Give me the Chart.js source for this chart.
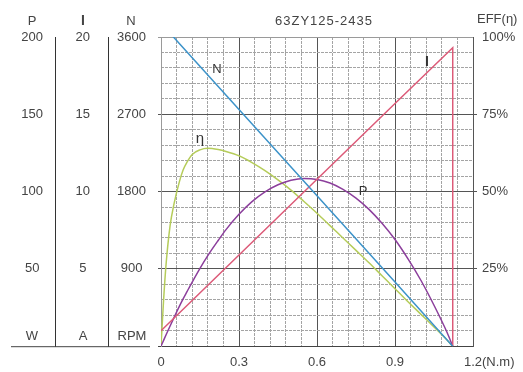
<!DOCTYPE html>
<html><head><meta charset="utf-8">
<script src="https://cdn.jsdelivr.net/npm/chart.js@4/dist/chart.umd.min.js"></script>
<style>html,body{margin:0;padding:0;background:#fff}canvas{display:block}</style>
</head><body>
<canvas id="c" width="523" height="372"></canvas>
<script>
// ---- data ----
const torque     = [0, 0.01, 0.02, 0.035, 0.05, 0.07, 0.085, 0.1, 0.12, 0.15, 0.18, 0.22, 0.25, 0.3, 0.35, 0.4, 0.45, 0.5, 0.55, 0.6, 0.65, 0.7, 0.75, 0.8, 0.85, 0.9, 0.95, 1.0, 1.05, 1.1, 1.122];
const power      = [0, 3.8, 7.6, 13.1, 18.5, 25.6, 30.6, 35.3, 41.5, 50.4, 58.6, 68.4, 75.4, 85.3, 93.5, 99.8, 104.4, 107.3, 108.5, 107.9, 105.6, 101.5, 95.8, 88.5, 79.5, 69, 56.5, 42.5, 26.5, 9, 0];
const efficiency = [0, 15, 27, 39, 46, 53, 57, 59.5, 62, 63.5, 64, 63.6, 63, 61.6, 59.4, 56.8, 53.8, 50.5, 46.8, 43, 39, 35, 31, 27, 22.8, 18.6, 14.4, 10.3, 6.2, 2, 0];
const speedTorque   = [0, 0.3, 0.6, 0.9, 1.122];
const speed         = [3760, 2756, 1751, 747, 0];
const currentTorque = [0, 0.3, 0.6, 0.9, 1.122, 1.122];
const current       = [1.0, 5.9, 10.8, 15.7, 19.3, 0];
const xTickLabels = ['0', '0.3', '0.6', '0.9', '1.2'];
const title = '63ZY125-2435';

const FONT = '"Liberation Sans", Arial, sans-serif';
Chart.defaults.font.family = FONT;
Chart.defaults.font.size = 13;
Chart.defaults.color = '#444';

const pts = (xs, ys) => xs.map((x, i) => ({x: x, y: ys[i]}));
const CLEAR = 'rgba(0,0,0,0)';
const MINOR = '#a4a4a4';

const textPlugin = {
  id: 'texts',
  beforeDraw(chart) {
    const c = chart.ctx;
    c.save(); c.fillStyle = '#fff'; c.fillRect(0, 0, chart.width, chart.height); c.restore();
  },
  afterDraw(chart) {
    const c = chart.ctx, a = chart.chartArea, s = chart.scales;
    c.save();
    c.fillStyle = '#444';
    c.textBaseline = 'middle';
    c.textAlign = 'center';
    c.font = '13px ' + FONT;
    // column headers and units
    const colP = s.yP.right - 23, colI = s.yI.right - 25, colN = s.yN.right - 30;
    c.fillText('P', colP, a.top - 16);
    c.fillText('N', colN, a.top - 16);
    c.fillText('W', colP, a.bottom - 10);
    c.fillText('A', colI, a.bottom - 10);
    c.fillText('RPM', colN + 1, a.bottom - 10);
    c.font = 'bold 14px ' + FONT;
    c.fillText('I', colI, a.top - 16);
    // bottom line across the left columns
    c.strokeStyle = '#444'; c.lineWidth = 1;
    c.beginPath(); c.moveTo(s.yP.left + 11, a.bottom + 0.5); c.lineTo(s.yN.right - 11, a.bottom + 0.5); c.stroke();
    // title
    c.font = '13px ' + FONT;
    try { c.letterSpacing = '1px'; } catch (e) {}
    c.fillText(title, (a.left + a.right) / 2 + 7, a.top - 16);
    try { c.letterSpacing = '0px'; } catch (e) {}
    // right axis title
    c.textAlign = 'left';
    c.fillText('EFF(\u03b7)', s.yE.left + 4, a.top - 18);
    // x unit
    const xr = s.x.getPixelForValue(1.2);
    c.fillText('(N.m)', xr + c.measureText('1.2').width / 2, a.bottom + 16);
    // curve labels
    c.textAlign = 'center';
    c.fillStyle = '#333';
    c.fillText('N', s.x.getPixelForValue(0.215), s.yN.getPixelForValue(3217));
    c.fillText('P', s.x.getPixelForValue(0.777), s.yP.getPixelForValue(100));
    c.font = '15px ' + FONT;
    c.fillText('\u03b7', s.x.getPixelForValue(0.15), s.yE.getPixelForValue(67));
    c.font = 'bold 14px ' + FONT;
    c.fillText('I', s.x.getPixelForValue(1.023), s.yI.getPixelForValue(18.4));
    c.restore();
  }
};

const lineDs = (label, data, axis, color, smooth) => ({
  label, data, yAxisID: axis, borderColor: color, borderWidth: 1.5,
  pointRadius: 0, fill: false,
  cubicInterpolationMode: smooth ? 'monotone' : 'default', tension: 0
});

new Chart(document.getElementById('c'), {
  type: 'line',
  data: {
    datasets: [
      lineDs('N', pts(speedTorque, speed), 'yN', '#3d93c9', false),
      lineDs('I', pts(currentTorque, current), 'yI', '#dc5a78', false),
      lineDs('P', pts(torque, power), 'yP', '#8c3f9c', true),
      lineDs('EFF', pts(torque, efficiency), 'yE', '#b5cc5a', true)
    ]
  },
  options: {
    responsive: false,
    animation: false,
    layout: {padding: {top: 37, left: 0, right: 0, bottom: 0}},
    plugins: {legend: {display: false}, tooltip: {enabled: false}, title: {display: false}},
    scales: {
      x: {
        type: 'linear', position: 'bottom', min: 0, max: 1.2,
        ticks: {stepSize: 0.3, autoSkip: false, maxRotation: 0, padding: 8,
          callback: (v, i) => xTickLabels[i] !== undefined ? xTickLabels[i] : ''},
        grid: {drawTicks: false, lineWidth: 1, color: c => c.index === 0 ? '#9a9a9a' : '#555'},
        border: {display: true, color: '#444'},
        afterFit: s => { s.height = 25; }
      },
      xm: {
        type: 'linear', position: 'bottom', min: 0, max: 1.2,
        ticks: {display: false, stepSize: 0.06},
        grid: {drawTicks: false, color: c => c.index % 5 === 0 ? CLEAR : MINOR},
        border: {display: false, dash: [3, 1]},
        afterFit: s => { s.height = 0; }
      },
      ym: {
        type: 'linear', position: 'left', weight: 0, min: 0, max: 3600,
        ticks: {display: false, stepSize: 180},
        grid: {drawTicks: false, color: c => c.index % 5 === 0 ? CLEAR : MINOR},
        border: {display: false, dash: [3, 1]},
        afterFit: s => { s.width = 0; }
      },
      yN: {
        type: 'linear', position: 'left', weight: 1, min: 0, max: 3600,
        ticks: {stepSize: 900, autoSkip: false, padding: 12, crossAlign: 'center',
          callback: v => v === 0 ? '' : String(v)},
        grid: {drawTicks: true, tickLength: 3,
          color: c => c.index === 0 ? '#444' : (c.index === 4 ? '#9a9a9a' : '#555'),
          tickColor: c => c.index === 0 ? '#444' : (c.index === 4 ? '#9a9a9a' : '#555')},
        border: {display: true, color: '#9a9a9a'},
        afterFit: s => { s.width = 53; }
      },
      yI: {
        type: 'linear', position: 'left', weight: 2, min: 0, max: 20,
        ticks: {stepSize: 5, autoSkip: false, padding: 18, crossAlign: 'center',
          callback: v => v === 0 ? '' : String(v)},
        grid: {drawOnChartArea: false, drawTicks: false},
        border: {display: true, color: '#333', width: 1},
        afterFit: s => { s.width = 53; }
      },
      yP: {
        type: 'linear', position: 'left', weight: 3, min: 0, max: 200,
        ticks: {stepSize: 50, autoSkip: false, padding: 12, crossAlign: 'center',
          callback: v => v === 0 ? '' : String(v)},
        grid: {drawOnChartArea: false, drawTicks: false},
        border: {display: true, color: '#333', width: 1},
        afterFit: s => { s.width = 55; }
      },
      yE: {
        type: 'linear', position: 'right', min: 0, max: 100,
        ticks: {stepSize: 25, autoSkip: false, padding: 5,
          callback: v => v === 0 ? '' : v + '%'},
        grid: {drawOnChartArea: false, drawTicks: true, tickLength: 4,
          tickColor: c => (c.index === 0 || c.index === 4) ? CLEAR : '#555'},
        border: {display: true, color: '#555'},
        afterFit: s => { s.width = 50; }
      }
    }
  },
  plugins: [textPlugin]
});
</script>
</body></html>
